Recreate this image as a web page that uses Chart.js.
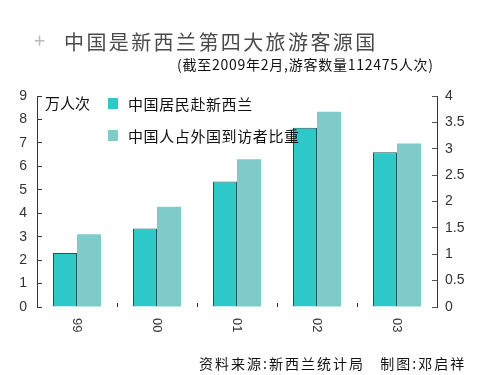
<!DOCTYPE html>
<html>
<head>
<meta charset="utf-8">
<script src="https://cdn.jsdelivr.net/npm/chart.js@4"></script>
<style>
  body { margin: 0; background: #fff; }
  #wrap { position: relative; width: 500px; height: 375px; font-family: "Noto Sans CJK SC", sans-serif; }
  #wrap canvas { position: absolute; left: 0; top: 0; }
  .txt { position: absolute; white-space: nowrap; line-height: 1; }
  .sw { position: absolute; width: 10px; height: 11px; }
</style>
</head>
<body>
<div id="wrap">
  <canvas id="grafico" width="500" height="375"></canvas>
  <div class="txt" style="left:34px;top:30px;font-size:20px;color:#bbb;">+</div>
  <div class="txt" style="left:64px;top:32px;font-size:20px;letter-spacing:2.4px;color:#4a4a4a;">中国是新西兰第四大旅游客源国</div>
  <div class="txt" style="left:177px;top:57px;font-size:14px;color:#111;letter-spacing:0.75px;">(截至2009年2月,游客数量112475人次)</div>
  <div class="txt" style="left:45px;top:95px;font-size:15px;color:#111;">万人次</div>
  <div id="leyenda"></div>
  <div class="txt" style="left:199px;top:356px;font-size:14px;color:#111;letter-spacing:2px;">资料来源:新西兰统计局&nbsp;&nbsp;&nbsp;制图:邓启祥</div>
</div>
<script>
// Datos
const anios = ["99", "00", "01", "02", "03"];
const visitantes = [2.3, 3.35, 5.35, 7.65, 6.6];   // 万人次 (eje izquierdo)
const proporcion = [1.38, 1.9, 2.8, 3.7, 3.1];     // % (eje derecho)
const nombres = ["中国居民赴新西兰", "中国人占外国到访者比重"];
const colores = ["#2cc9c8", "#7ecbca"];

// Leyenda en HTML a partir de los nombres y colores
const leyenda = document.getElementById("leyenda");
nombres.forEach((n, i) => {
    const top = 96 + i * 32;
    leyenda.insertAdjacentHTML("beforeend",
        `<div class="sw" style="left:108px;top:${top + 2}px;background:${colores[i]}"></div>` +
        `<div class="txt" style="left:128px;top:${top}px;font-size:15px;letter-spacing:0.6px;color:#111;">${n}</div>`);
});

// Etiquetas del eje x giradas en sentido horario
const etiquetasX = {
    id: "etiquetasX",
    afterDraw(chart) {
        const ctx = chart.ctx;
        const xs = chart.scales.x;
        ctx.save();
        ctx.font = '13px "Liberation Sans"';
        ctx.fillStyle = "#333";
        ctx.textAlign = "left";
        ctx.textBaseline = "middle";
        anios.forEach((a, i) => {
            ctx.save();
            ctx.translate(xs.getPixelForValue(i), xs.top + 11);
            ctx.rotate(Math.PI / 2);
            ctx.fillText(a, 0, 0);
            ctx.restore();
        });
        ctx.restore();
    }
};

const fuenteEje = { family: "Liberation Sans", size: 14 };

new Chart(document.getElementById("grafico").getContext("2d"), {
    type: "bar",
    data: {
        labels: anios,
        datasets: [{
            label: nombres[0],
            data: visitantes,
            yAxisID: "y",
            backgroundColor: colores[0],
            borderColor: "#1d5857",
            borderWidth: { left: 1, top: 1, right: 1, bottom: 0 },
            categoryPercentage: 0.6,
            barPercentage: 1.0
        }, {
            label: nombres[1],
            data: proporcion,
            yAxisID: "y1",
            backgroundColor: colores[1],
            borderWidth: 0,
            categoryPercentage: 0.6,
            barPercentage: 1.0
        }]
    },
    options: {
        responsive: false,
        animation: false,
        layout: { padding: { top: 96 } },
        plugins: { legend: { display: false }, tooltip: { enabled: false } },
        scales: {
            x: {
                afterFit: (s) => { s.height = 68; },
                border: { display: false },
                grid: { offset: true, drawOnChartArea: false, tickLength: -4, color: "#333", lineWidth: 1 },
                ticks: { display: false }
            },
            y: {
                position: "left",
                min: 0, max: 9,
                afterFit: (s) => { s.width = 37; },
                border: { display: true, color: "#333" },
                grid: { drawOnChartArea: false, tickLength: -5, color: "#333" },
                ticks: { stepSize: 1, padding: 15, color: "#333", font: fuenteEje }
            },
            y1: {
                position: "right",
                min: 0, max: 4,
                afterFit: (s) => { s.width = 63; },
                border: { display: true, color: "#333" },
                grid: { drawOnChartArea: false, tickLength: -5, color: "#555" },
                ticks: {
                    stepSize: 0.5, padding: 13, color: "#333", font: fuenteEje,
                    callback: (v) => String(Number(v.toFixed(1)))
                }
            }
        }
    },
    plugins: [etiquetasX]
});
</script>
</body>
</html>
